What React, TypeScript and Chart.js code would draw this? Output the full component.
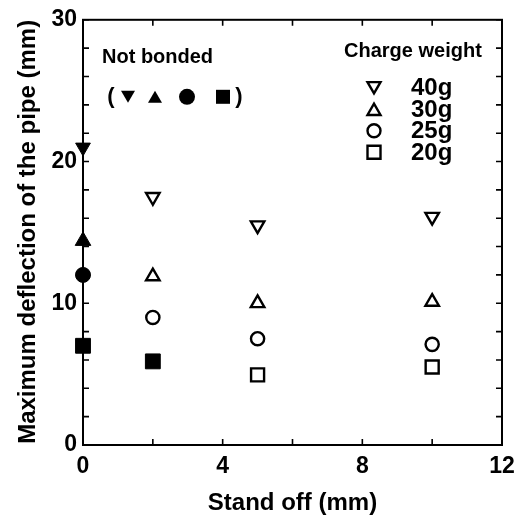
import React, { useEffect, useRef } from 'react';
import { Chart, registerables } from 'chart.js';

Chart.register(...registerables);

const FONT = '"Liberation Sans", Arial, Helvetica, sans-serif';

// Bonded pipe, open symbols (stand off mm, deflection mm)
const standOff40 = [2, 5, 10];
const deflection40 = [17.5, 15.5, 16.1];
const standOff30 = [2, 5, 10];
const deflection30 = [11.9, 10.0, 10.1];
const standOff25 = [2, 5, 10];
const deflection25 = [9.0, 7.5, 7.1];
const standOff20 = [5, 10];
const deflection20 = [4.95, 5.5];

// Not bonded, filled symbols
const nbStandOff40 = [0];
const nbDeflection40 = [21.0];
const nbStandOff30 = [0];
const nbDeflection30 = [14.4];
const nbStandOff25 = [0];
const nbDeflection25 = [12.0];
const nbStandOff20 = [0, 2];
const nbDeflection20 = [7.0, 5.9];

const chargeLabels = ['40g', '30g', '25g', '20g'];
const chargeSymbols = ['down', 'up', 'circle', 'square'];

const X_MIN = 0, X_MAX = 12, X_STEP = 2, X_LABEL_EVERY = 4;
const Y_MIN = 0, Y_MAX = 30, Y_STEP = 2, Y_LABEL_EVERY = 10;

const pts = (xs: number[], ys: number[]) => xs.map((x, i) => ({ x, y: ys[i] }));

function drawSymbol(ctx: CanvasRenderingContext2D, type: string, x: number, y: number, w: number, filled: boolean) {
  ctx.beginPath();
  if (type === 'down' || type === 'up') {
    const h = w * 0.866;
    if (type === 'down') {
      ctx.moveTo(x - w / 2, y - h / 2);
      ctx.lineTo(x + w / 2, y - h / 2);
      ctx.lineTo(x, y + h / 2);
    } else {
      ctx.moveTo(x - w / 2, y + h / 2);
      ctx.lineTo(x + w / 2, y + h / 2);
      ctx.lineTo(x, y - h / 2);
    }
    ctx.closePath();
  } else if (type === 'circle') {
    ctx.arc(x, y, w / 2, 0, Math.PI * 2);
  } else {
    ctx.rect(x - w / 2, y - w / 2, w, w);
  }
  if (filled) {
    ctx.fillStyle = '#000';
    ctx.fill();
  } else {
    ctx.strokeStyle = '#000';
    ctx.lineWidth = 2.4;
    ctx.stroke();
  }
}

const framePlugin = {
  id: 'frame',
  beforeDatasetsDraw(chart: any) {
    const { ctx, chartArea: a, scales } = chart;
    ctx.save();
    ctx.strokeStyle = '#000';
    ctx.lineWidth = 2;
    ctx.strokeRect(a.left, a.top, a.right - a.left, a.bottom - a.top);
    const tl = 6;
    ctx.lineWidth = 1.6;
    ctx.beginPath();
    scales.x.ticks.forEach((t: any) => {
      const px = scales.x.getPixelForValue(t.value);
      ctx.moveTo(px, a.bottom);
      ctx.lineTo(px, a.bottom - tl);
      ctx.moveTo(px, a.top);
      ctx.lineTo(px, a.top + tl);
    });
    scales.y.ticks.forEach((t: any) => {
      const py = scales.y.getPixelForValue(t.value);
      ctx.moveTo(a.left, py);
      ctx.lineTo(a.left + tl, py);
      ctx.moveTo(a.right, py);
      ctx.lineTo(a.right - tl, py);
    });
    ctx.stroke();
    ctx.restore();
  },
  afterDatasetsDraw(chart: any) {
    const { ctx, chartArea: a } = chart;
    ctx.save();
    ctx.fillStyle = '#000';
    ctx.textBaseline = 'middle';
    ctx.textAlign = 'left';
    ctx.font = `bold 20px ${FONT}`;
    ctx.fillText('Not bonded', a.left + 19, a.top + 38);
    ctx.fillText('Charge weight', a.left + 261, a.top + 32);
    // not bonded symbol row
    const rowY = a.top + 77;
    ctx.textAlign = 'center';
    ctx.font = `bold 22px ${FONT}`;
    ctx.fillText('(', a.left + 28, rowY);
    ctx.fillText(')', a.left + 156, rowY);
    drawSymbol(ctx, 'down', a.left + 45, rowY, 14, true);
    drawSymbol(ctx, 'up', a.left + 72, rowY, 14, true);
    drawSymbol(ctx, 'circle', a.left + 104, rowY, 16, true);
    drawSymbol(ctx, 'square', a.left + 140, rowY, 14, true);
    // charge weight legend
    ctx.textAlign = 'left';
    ctx.font = `bold 24px ${FONT}`;
    chargeLabels.forEach((lab, i) => {
      const y = a.top + 68 + i * 21.5;
      drawSymbol(ctx, chargeSymbols[i], a.left + 291, y, 13, false);
      ctx.fillText(lab, a.left + 328, y + 1);
    });
    ctx.restore();
  },
};

export default function App() {
  const ref = useRef<HTMLCanvasElement | null>(null);
  useEffect(() => {
    if (!ref.current) return;
    const open = { backgroundColor: 'rgba(0,0,0,0)', borderColor: '#000', borderWidth: 2.4, clip: false as any };
    const filled = { backgroundColor: '#000', borderColor: '#000', borderWidth: 1, clip: false as any };
    const chart = new Chart(ref.current, {
      type: 'scatter',
      data: {
        datasets: [
          { label: '40g', data: pts(standOff40, deflection40), pointStyle: 'triangle', rotation: 180, pointRadius: 7.8, ...open },
          { label: '30g', data: pts(standOff30, deflection30), pointStyle: 'triangle', pointRadius: 7.8, ...open },
          { label: '25g', data: pts(standOff25, deflection25), pointStyle: 'circle', pointRadius: 6.6, ...open },
          { label: '20g', data: pts(standOff20, deflection20), pointStyle: 'rect', pointRadius: 9.2, ...open },
          { label: '40g not bonded', data: pts(nbStandOff40, nbDeflection40), pointStyle: 'triangle', rotation: 180, pointRadius: 8.5, ...filled },
          { label: '30g not bonded', data: pts(nbStandOff30, nbDeflection30), pointStyle: 'triangle', pointRadius: 9, ...filled },
          { label: '25g not bonded', data: pts(nbStandOff25, nbDeflection25), pointStyle: 'circle', pointRadius: 7.5, ...filled },
          { label: '20g not bonded', data: pts(nbStandOff20, nbDeflection20), pointStyle: 'rect', pointRadius: 10.5, ...filled },
        ] as any,
      },
      options: {
        animation: false,
        responsive: true,
        maintainAspectRatio: false,
        layout: { padding: { top: 15, right: 27, left: 0, bottom: 0 } },
        plugins: { legend: { display: false }, tooltip: { enabled: false } },
        scales: {
          x: {
            type: 'linear',
            min: X_MIN,
            max: X_MAX,
            grid: { display: false, drawTicks: false },
            border: { display: false },
            afterFit: (s: any) => { s.height = 73; },
            ticks: {
              stepSize: X_STEP,
              autoSkip: false,
              maxRotation: 0,
              padding: 8,
              color: '#000',
              font: { family: FONT, size: 23, weight: 'bold' },
              callback: (v: any) => (Number(v) % X_LABEL_EVERY === 0 ? String(v) : ''),
            },
            title: {
              display: true,
              text: 'Stand off (mm)',
              color: '#000',
              font: { family: FONT, size: 24, weight: 'bold' },
              padding: { top: 0, bottom: 0 },
            },
          },
          y: {
            type: 'linear',
            min: Y_MIN,
            max: Y_MAX,
            grid: { display: false, drawTicks: false },
            border: { display: false },
            afterFit: (s: any) => { s.width = 83; },
            ticks: {
              stepSize: Y_STEP,
              autoSkip: false,
              padding: 6,
              color: '#000',
              font: { family: FONT, size: 23, weight: 'bold' },
              callback: (v: any) => (Number(v) % Y_LABEL_EVERY === 0 ? String(v) : ''),
            },
            title: {
              display: true,
              text: 'Maximum deflection of the pipe (mm)',
              align: 'end',
              color: '#000',
              font: { family: FONT, size: 24, weight: 'bold' },
              padding: { top: 14, bottom: 0 },
            },
          },
        },
      } as any,
      plugins: [framePlugin],
    });
    return () => chart.destroy();
  }, []);
  return (
    <div style={{ position: 'fixed', left: 0, top: 0, width: 529, height: 518, background: '#fff' }}>
      <canvas ref={ref} />
    </div>
  );
}
